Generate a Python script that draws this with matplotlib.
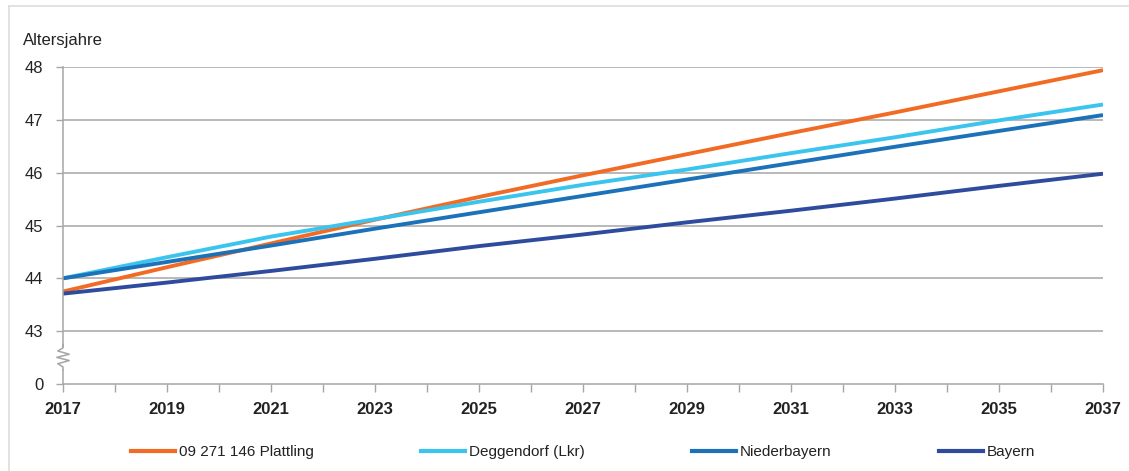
import matplotlib
matplotlib.use("Agg")
import matplotlib.pyplot as plt
from matplotlib.lines import Line2D

plt.rcParams["font.family"] = ["Liberation Sans", "DejaVu Sans"]

years = [2017, 2019, 2021, 2023, 2025, 2027, 2029, 2031, 2033, 2035, 2037]
plattling = [43.75, 44.21, 44.66, 45.11, 45.54, 45.95, 46.35, 46.75, 47.14, 47.54, 47.94]
deggendorf = [44.00, 44.40, 44.79, 45.12, 45.45, 45.77, 46.06, 46.37, 46.67, 46.99, 47.29]
niederbayern = [44.00, 44.31, 44.62, 44.94, 45.25, 45.56, 45.87, 46.18, 46.49, 46.79, 47.09]
bayern = [43.71, 43.92, 44.14, 44.37, 44.61, 44.83, 45.06, 45.28, 45.51, 45.75, 45.98]

series = [
    ("09 271 146 Plattling", plattling, "#F26B24"),
    ("Deggendorf (Lkr)", deggendorf, "#3BC4EE"),
    ("Niederbayern", niederbayern, "#1B72B8"),
    ("Bayern", bayern, "#2F4B9D"),
]

# y axis is broken: the bottom tick stands for 0, then 43..48
ytick_pos = [42, 43, 44, 45, 46, 47, 48]
ytick_labels = ["0", "43", "44", "45", "46", "47", "48"]
xtick_labels = [str(y) for y in years]

grid_color = "#A6A6A6"

fig = plt.figure(figsize=(11.29, 4.71), dpi=100)
ax = fig.add_axes([63 / 1129, 1 - 384 / 471, (1103 - 63) / 1129, (384 - 67) / 471])

for label, values, color in series:
    ax.plot(years, values, color=color, lw=2.8, label=label, solid_capstyle="butt")

ax.set_xlim(2017, 2037)
ax.set_ylim(42, 48)
ax.set_yticks(ytick_pos)
ax.set_yticklabels(ytick_labels, fontsize=12, color="#222222")
ax.set_xticks(years)
ax.set_xticklabels(xtick_labels, fontsize=12, fontweight="bold", color="#222222")
ax.set_xticks(range(2017, 2038), minor=True)
ax.tick_params(axis="x", which="both", direction="out", length=6, width=1, color=grid_color, pad=7)
ax.tick_params(axis="y", direction="out", length=5, width=1, color=grid_color, pad=9)

for y in [43, 44, 45, 46, 47, 48]:
    ax.axhline(y, color=grid_color, lw=1.1, zorder=0)

for side in ["top", "right"]:
    ax.spines[side].set_visible(False)
for side in ["left", "bottom"]:
    ax.spines[side].set_color(grid_color)
    ax.spines[side].set_linewidth(1.1)

# axis break zigzag (axes coordinates, ~7 px wide wiggle between 43 and 0)
zx = [0, 0, -0.005, 0.006, -0.006, 0.006, -0.005, 0, 0]
zy = [0.125, 0.114, 0.104, 0.094, 0.084, 0.074, 0.064, 0.054, 0.045]
ax.plot([-0.008, 0.008], [0.105, 0.105], color="white", lw=0, transform=ax.transAxes)
ax.fill_between([-0.001, 0.001], 0.05, 0.115, color="white", transform=ax.transAxes,
                clip_on=False, zorder=5)
ax.plot(zx, zy, color=grid_color, lw=1.1, transform=ax.transAxes, clip_on=False, zorder=6)

fig.text(23 / 1129, 1 - 40 / 471, "Altersjahre", fontsize=12, color="#222222", va="center")

handles = [Line2D([], [], color=c, lw=3) for _, _, c in series]
fig.legend(handles, [s[0] for s in series], loc="center left",
           bbox_to_anchor=(125 / 1129, 1 - 452 / 471), ncol=4, frameon=False,
           fontsize=11, handlelength=2.9, handletextpad=0.25, columnspacing=7.0,
           borderaxespad=0, labelcolor="#222222")

# light frame (top and left edge)
fig.add_artist(Line2D([8.5 / 1129, 1], [1 - 5.5 / 471, 1 - 5.5 / 471], color="#DDDDDD", lw=1.2,
                      transform=fig.transFigure))
fig.add_artist(Line2D([8.5 / 1129, 8.5 / 1129], [0, 1 - 5.5 / 471], color="#DDDDDD", lw=1.2,
                      transform=fig.transFigure))

fig.savefig("out.png", dpi=100)
